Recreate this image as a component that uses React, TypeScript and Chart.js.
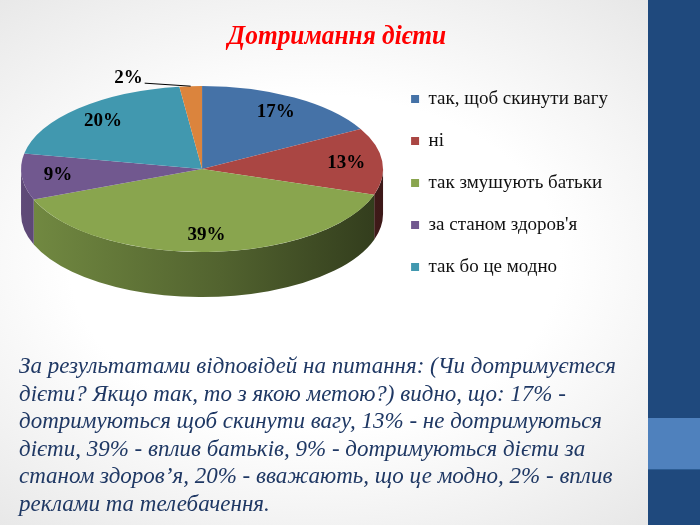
import React, { useEffect, useRef } from "react";
import { Chart, registerables } from "chart.js";

Chart.register(...registerables);

// ---------- data ----------
const chartTitle = "Дотримання дієти";
const categories = [
  "так, щоб скинути вагу",
  "ні",
  "так змушують батьки",
  "за станом здоров'я",
  "так бо це модно",
  "вплив реклами та телебачення",
];
const values = [17, 13, 39, 9, 20, 2];
const sliceColors = ["#4572A7", "#AA4643", "#89A54E", "#71588F", "#4198AF", "#DB843D"];
const inLegend = [true, true, true, true, true, false];
const summaryLines = [
  "За результатами відповідей на питання: (Чи дотримуєтеся",
  "дієти? Якщо так, то з якою метою?) видно, що: 17% -",
  "дотримуються щоб скинути вагу, 13% - не дотримуються",
  "дієти, 39% - вплив батьків, 9% - дотримуються дієти за",
  "станом здоров’я, 20% - вважають, що це модно, 2% - вплив",
  "реклами та телебачення.",
];

const SERIF = "'Liberation Serif', 'Times New Roman', serif";

function shade(hex: string, f: number): string {
  const n = parseInt(hex.slice(1), 16);
  const r = Math.round(((n >> 16) & 255) * f);
  const g = Math.round(((n >> 8) & 255) * f);
  const b = Math.round((n & 255) * f);
  return `rgb(${r},${g},${b})`;
}

// 3D tilt plugin: squashes the pie into an ellipse and draws its side wall
const pie3d = {
  id: "pie3d",
  _saved: false,
  beforeDatasetsDraw(chart: any, _args: any, opts: any) {
    const meta = chart.getDatasetMeta(0);
    const arcs = meta.data;
    (pie3d as any)._saved = false;
    if (!arcs || !arcs.length) return;
    const p0 = arcs[0].getProps(["x", "y", "outerRadius"], true);
    const cx = p0.x, cy = p0.y, r = p0.outerRadius;
    const sx = opts.rx / r, sy = opts.ry / r;
    const ctx = chart.ctx;
    ctx.save();
    (pie3d as any)._saved = true;
    ctx.translate(cx, cy + opts.dy);
    ctx.scale(sx, sy);
    ctx.translate(-cx, -cy);
    const D = opts.depth / sy;
    const bg = chart.data.datasets[0].backgroundColor;
    arcs.forEach((arc: any, i: number) => {
      const p = arc.getProps(["startAngle", "endAngle"], true);
      const a = Math.max(p.startAngle, 0);
      const b = Math.min(p.endAngle, Math.PI);
      if (b <= a) return;
      const g = ctx.createLinearGradient(cx - r, 0, cx + r, 0);
      g.addColorStop(0, shade(bg[i], 0.84));
      g.addColorStop(0.55, shade(bg[i], 0.6));
      g.addColorStop(1, shade(bg[i], 0.36));
      ctx.beginPath();
      ctx.arc(cx, cy, r, a, b);
      ctx.arc(cx, cy + D, r, b, a, true);
      ctx.closePath();
      ctx.fillStyle = g;
      ctx.fill();
    });
  },
  afterDatasetsDraw(chart: any, _args: any, opts: any) {
    const ctx = chart.ctx;
    if ((pie3d as any)._saved) ctx.restore();
    const meta = chart.getDatasetMeta(0);
    const arcs = meta.data;
    if (!arcs || !arcs.length) return;
    const data = chart.data.datasets[0].data as number[];
    const total = data.reduce((s, v) => s + v, 0);
    const p0 = arcs[0].getProps(["x", "y", "outerRadius"], true);
    const cx = p0.x, cy = p0.y, r = p0.outerRadius;
    const sx = opts.rx / r, sy = opts.ry / r;
    const toScreen = (ux: number, uy: number) => ({
      x: cx + sx * (ux - cx),
      y: cy + opts.dy + sy * (uy - cy),
    });
    ctx.save();
    ctx.font = `bold ${opts.labelSize}px ${SERIF}`;
    ctx.fillStyle = "#000";
    arcs.forEach((arc: any, i: number) => {
      const p = arc.getProps(["startAngle", "endAngle"], true);
      const mid = (p.startAngle + p.endAngle) / 2;
      const pct = Math.round((data[i] / total) * 100) + "%";
      if (data[i] / total < 0.05) {
        const rim = toScreen(cx + r * Math.cos(mid), cy + r * Math.sin(mid));
        const sx0 = rim.x - 46, sy0 = rim.y - 3;
        ctx.strokeStyle = "#000";
        ctx.lineWidth = 1;
        ctx.beginPath();
        ctx.moveTo(sx0, sy0);
        ctx.lineTo(rim.x, rim.y);
        ctx.stroke();
        ctx.textAlign = "right";
        ctx.textBaseline = "middle";
        ctx.fillText(pct, sx0 - 2, sy0 - 5);
      } else {
        const f = opts.labelRadius;
        const pt = toScreen(cx + r * f * Math.cos(mid), cy + r * f * Math.sin(mid));
        ctx.textAlign = "center";
        ctx.textBaseline = "middle";
        ctx.fillText(pct, pt.x, pt.y);
      }
    });
    ctx.restore();
  },
};

function PieChart() {
  const ref = useRef<HTMLCanvasElement | null>(null);
  useEffect(() => {
    if (!ref.current) return;
    const chart = new Chart(ref.current, {
      type: "pie",
      data: {
        labels: categories,
        datasets: [
          {
            data: values,
            backgroundColor: sliceColors,
            borderWidth: 0,
            clip: false,
          } as any,
        ],
      },
      options: {
        animation: false,
        responsive: false,
        events: [],
        layout: { padding: { left: 16, top: 60, bottom: 34, right: 30 } },
        plugins: {
          legend: {
            position: "right",
            labels: {
              boxWidth: 8,
              boxHeight: 8,
              padding: 23,
              color: "#111",
              font: { family: SERIF, size: 19 },
              filter: (item: any) => inLegend[item.index],
            },
          },
          tooltip: { enabled: false },
          title: { display: false },
          pie3d: { rx: 181, ry: 83, depth: 45, dy: -14, labelRadius: 0.8, labelSize: 19 },
        } as any,
      },
      plugins: [pie3d as any],
    });
    return () => chart.destroy();
  }, []);
  return (
    <canvas
      ref={ref}
      width={648}
      height={340}
      style={{ position: "absolute", left: 0, top: 0, width: 648, height: 340 }}
    />
  );
}

export default function App() {
  return (
    <div
      style={{
        position: "fixed",
        left: 0,
        top: 0,
        width: 700,
        height: 525,
        overflow: "hidden",
        background: "radial-gradient(ellipse at 45% 50%, #ffffff 45%, #e4e4e4 100%)",
      }}
    >
      <div
        style={{
          position: "absolute",
          left: 0,
          top: 17,
          width: 674,
          textAlign: "center",
          fontFamily: SERIF,
          fontWeight: "bold",
          fontStyle: "italic",
          fontSize: 27,
          color: "#FF0000",
          lineHeight: "36px",
          transform: "scaleX(0.94)",
          transformOrigin: "337px 50%",
        }}
      >
        {chartTitle}
      </div>
      <PieChart />
      <div
        style={{
          position: "absolute",
          left: 19,
          top: 352,
          fontFamily: SERIF,
          fontStyle: "italic",
          fontSize: 23,
          lineHeight: "27.6px",
          color: "#1F3864",
          whiteSpace: "nowrap",
        }}
      >
        {summaryLines.map((l, i) => (
          <div key={i}>{l}</div>
        ))}
      </div>
      <div style={{ position: "absolute", left: 648, top: 0, width: 52, height: 525, background: "#1F497D" }} />
      <div style={{ position: "absolute", left: 648, top: 418, width: 52, height: 52, background: "#4F81BD", borderBottom: "1px solid #2c5d94", boxSizing: "border-box" }} />
    </div>
  );
}
